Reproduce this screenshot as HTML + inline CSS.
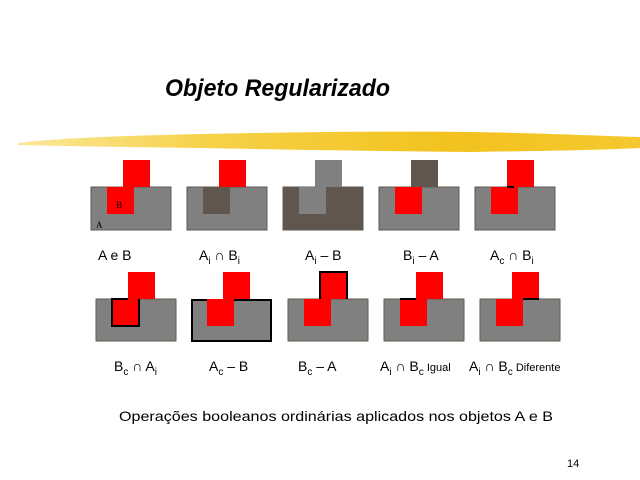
<!DOCTYPE html>
<html><head><meta charset="utf-8"><style>
html,body{margin:0;padding:0;background:#fff;}
svg{display:block;}
</style></head><body>
<svg width="640" height="480" viewBox="0 0 640 480" xmlns="http://www.w3.org/2000/svg" font-family="Liberation Sans, Arial, sans-serif">
<defs>
<linearGradient id="yg" x1="0" x2="1" y1="0" y2="0">
<stop offset="0" stop-color="#fbe79a"/><stop offset="0.3" stop-color="#f6d24a"/><stop offset="0.7" stop-color="#f2c21e"/><stop offset="1" stop-color="#f5c830"/>
</linearGradient>
</defs>
<text x="165" y="96" font-size="24" font-weight="bold" font-style="italic" textLength="225" lengthAdjust="spacingAndGlyphs">Objeto Regularizado</text>
<path d="M18,143 C60,138 120,136 200,134 C300,132 400,131 470,132 C540,133 600,136 640,137 L640,148 C600,150 540,151 470,152 C380,151 300,150 200,148 C120,147 60,146 18,145 Z" fill="url(#yg)"/>
<g stroke="#5f574d" stroke-width="1">
<!-- row1 -->
<rect x="91" y="187" width="80" height="43" fill="#808080"/>
<rect x="187" y="187" width="80" height="43" fill="#808080"/>
<rect x="283" y="187" width="80" height="43" fill="#5f574d"/>
<rect x="379" y="187" width="80" height="43" fill="#808080"/>
<rect x="475" y="187" width="80" height="43" fill="#808080"/>
<!-- row2 -->
<rect x="96" y="299" width="80" height="42" fill="#808080"/>
<rect x="384" y="299" width="80" height="42" fill="#808080"/>
<rect x="480" y="299" width="80" height="42" fill="#808080"/>
<rect x="288" y="299" width="80" height="42" fill="#808080"/>
</g>
<rect x="192" y="300" width="79" height="41" fill="#808080" stroke="#000" stroke-width="2"/>
<g stroke="none">
<rect x="107" y="187" width="27" height="27" fill="#f00"/><rect x="123" y="160" width="27" height="27" fill="#f00"/>
<rect x="203" y="187" width="27" height="27" fill="#5f574d"/><rect x="219" y="160" width="27" height="27" fill="#f00"/>
<rect x="299" y="187" width="27" height="27" fill="#808080"/><rect x="315" y="160" width="27" height="27" fill="#808080"/>
<rect x="395" y="187" width="27" height="27" fill="#f00"/><rect x="411" y="160" width="27" height="27" fill="#5f574d"/>
<rect x="491" y="187" width="27" height="27" fill="#f00"/><rect x="507" y="160" width="27" height="27" fill="#f00"/>
<rect x="112" y="299" width="27" height="27" fill="#f00"/><rect x="128" y="272" width="27" height="27" fill="#f00"/>
<rect x="207" y="299" width="27" height="27" fill="#f00"/><rect x="223" y="272" width="27" height="27" fill="#f00"/>
<rect x="304" y="299" width="27" height="27" fill="#f00"/><rect x="320" y="272" width="27" height="27" fill="#f00"/>
<rect x="400" y="299" width="27" height="27" fill="#f00"/><rect x="416" y="272" width="27" height="27" fill="#f00"/>
<rect x="496" y="299" width="27" height="27" fill="#f00"/><rect x="512" y="272" width="27" height="27" fill="#f00"/>
</g>
<g stroke="#000" stroke-width="2" fill="none">
<line x1="507" y1="187" x2="514" y2="187"/>
<path d="M128,299 H112 V326 H139 V299"/>
<path d="M320,299 V272 H347 V299"/>
<line x1="400" y1="299" x2="416" y2="299"/>
<line x1="523" y1="299" x2="539" y2="299"/>
</g>
<text x="116" y="208" font-size="9" font-family="Liberation Serif, serif">B</text>
<text x="96" y="228" font-size="9" font-family="Liberation Serif, serif">A</text>
<g font-size="14" fill="#000">
<text x="98" y="260">A e B</text>
<text x="199" y="260">A<tspan font-size="10" dy="4">i</tspan><tspan dy="-4"> ∩ B</tspan><tspan font-size="10" dy="4">i</tspan></text>
<text x="305" y="260">A<tspan font-size="10" dy="4">i</tspan><tspan dy="-4"> – B</tspan></text>
<text x="403" y="260">B<tspan font-size="10" dy="4">i</tspan><tspan dy="-4"> – A</tspan></text>
<text x="490" y="260">A<tspan font-size="10" dy="4">c</tspan><tspan dy="-4"> ∩ B</tspan><tspan font-size="10" dy="4">i</tspan></text>
<text x="114" y="371">B<tspan font-size="10" dy="4">c</tspan><tspan dy="-4"> ∩ A</tspan><tspan font-size="10" dy="4">i</tspan></text>
<text x="209" y="371">A<tspan font-size="10" dy="4">c</tspan><tspan dy="-4"> – B</tspan></text>
<text x="298" y="371">B<tspan font-size="10" dy="4">c</tspan><tspan dy="-4"> – A</tspan></text>
<text x="380" y="371">A<tspan font-size="10" dy="4">i</tspan><tspan dy="-4"> ∩ B</tspan><tspan font-size="10" dy="4">c</tspan><tspan font-size="11" dy="-4"> Igual</tspan></text>
<text x="469" y="371">A<tspan font-size="10" dy="4">i</tspan><tspan dy="-4"> ∩ B</tspan><tspan font-size="10" dy="4">c</tspan><tspan font-size="11" dy="-4"> Diferente</tspan></text>
<text x="119" y="421" textLength="434" lengthAdjust="spacingAndGlyphs">Operações booleanos ordinárias aplicados nos objetos A e B</text>
</g>
<text x="567" y="467" font-size="11">14</text>
</svg>
</body></html>
